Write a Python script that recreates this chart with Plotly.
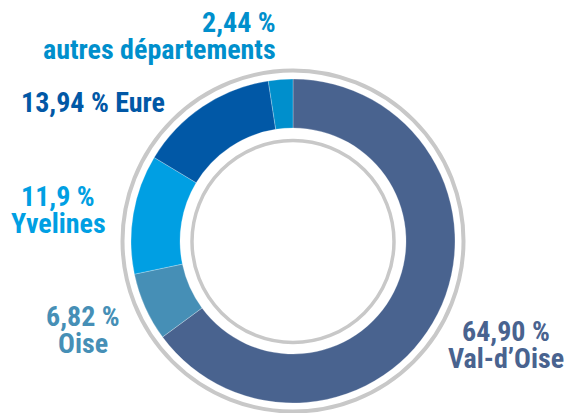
import plotly.graph_objects as go

W, H = 566, 413

# Data
categories = ["Val-d’Oise", "Oise", "Yvelines", "Eure", "autres départements"]
values = [64.90, 6.82, 11.9, 13.94, 2.44]
value_labels = ["64,90 %", "6,82 %", "11,9 %", "13,94 %", "2,44 %"]
colors = ["#49638F", "#468FB6", "#009FE3", "#0158A6", "#008FCC"]

# geometry (pixels)
cx, cy, R = 293, 241, 162
hole = 113 / 162


def px(x):
    return x / W


def py(y):
    return 1 - y / H


fig = go.Figure()
fig.add_trace(go.Pie(
    labels=categories,
    values=values,
    sort=False,
    direction="clockwise",
    rotation=0,
    hole=hole,
    marker=dict(colors=colors, line=dict(color="rgba(255,255,255,0.5)", width=0.5)),
    textinfo="none",
    hoverinfo="label+percent",
    showlegend=False,
    domain=dict(x=[px(cx - R), px(cx + R)], y=[py(cy + R), py(cy - R)]),
))


def ring(x, y, r, w):
    return dict(type="circle", xref="paper", yref="paper",
                x0=px(x - r), x1=px(x + r), y0=py(y + r), y1=py(y - r),
                line=dict(color="#C8C8C8", width=w), fillcolor="rgba(0,0,0,0)",
                layer="below")


shapes = [ring(293, 241, 170.5, 4), ring(293, 241.5, 101, 3.5)]

FONT = "Noto Sans Condensed, Liberation Sans Narrow, Arial Narrow, Roboto Condensed, sans-serif"
FS = 28

# label lines: (text, colour index, x, y, xanchor)
label_lines = [
    (value_labels[4], 4, 277, 22.3, "right"),
    (categories[4], 4, 277, 49.8, "right"),
    (value_labels[3] + " " + categories[3], 3, 20, 102, "left"),
    (value_labels[2], 2, 58, 196.7, "center"),
    (categories[2], 2, 58, 223.3, "center"),
    (value_labels[1], 1, 82.5, 316.2, "center"),
    (categories[1], 1, 82.5, 343.8, "center"),
    (value_labels[0], 0, 506, 331.2, "center"),
    (categories[0], 0, 506, 358.8, "center"),
]

annotations = []
for text, ci, x, y, xa in label_lines:
    annotations.append(dict(
        text="<b>" + text + "</b>", x=px(x), y=py(y), xref="paper", yref="paper",
        xanchor=xa, yanchor="middle", showarrow=False, borderpad=0,
        font=dict(family=FONT, size=FS, color=colors[ci]),
    ))

fig.update_layout(
    width=W, height=H,
    margin=dict(l=0, r=0, t=0, b=0),
    paper_bgcolor="white", plot_bgcolor="white",
    shapes=shapes, annotations=annotations,
)

fig.write_html("out.html", config={"displayModeBar": False},
               post_script="document.body.style.margin='0';")
